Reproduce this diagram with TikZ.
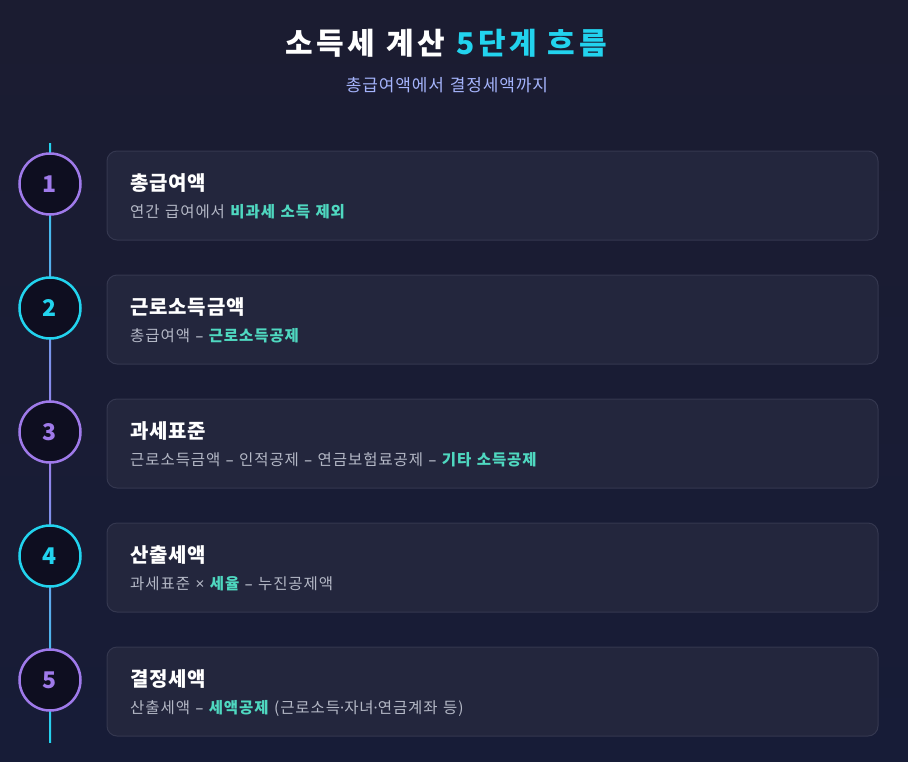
\documentclass[tikz,border=0pt]{standalone}
\usepackage{fontspec}
\setmainfont{Noto Sans CJK KR}
\newfontfamily\latinsym{Noto Sans}
\definecolor{bgtop}{HTML}{1B1C31}
\definecolor{bgbot}{HTML}{171C37}
\definecolor{cardfill}{HTML}{23263D}
\definecolor{cardline}{HTML}{34374F}
\definecolor{numfill}{HTML}{0E0E20}
\definecolor{tlcyan}{HTML}{22D3EE}
\definecolor{tlpurple}{HTML}{9F7AEA}
\definecolor{subtxt}{HTML}{A5B4FC}
\definecolor{desctxt}{HTML}{B4B8C6}
\definecolor{hl}{HTML}{4FD8C0}
\usetikzlibrary{positioning}
\newcommand{\hlt}[1]{\textcolor{hl}{\bfseries #1}}
\newcommand{\sdash}{{\latinsym –}}
\newcommand{\sdot}{{\latinsym ·}}
\newcommand{\titlefont}{\bfseries\fontsize{30}{34}\selectfont\addfontfeature{LetterSpace=12}\spaceskip=11pt\relax}
\newcommand{\subfont}{\fontsize{17}{20}\selectfont\addfontfeature{LetterSpace=5}\spaceskip=6pt\relax}
\newcommand{\descfont}{\fontsize{15.5}{18}\selectfont\addfontfeature{LetterSpace=6}\spaceskip=5.5pt\relax}
\begin{document}
\begin{tikzpicture}[x=1pt,y=-1pt,
  card/.style={draw=cardline,fill=cardfill,rounded corners=10pt,line width=1pt},
  stepnum/.style={circle,draw,line width=2.5pt,fill=numfill,minimum size=61pt,inner sep=0pt,font=\bfseries\fontsize{23}{27}\selectfont},
  head/.style={anchor=west,text=white,inner sep=0pt,font=\bfseries\fontsize{20}{24}\selectfont\addfontfeature{LetterSpace=4}},
  desc/.style={anchor=west,text=desctxt,inner sep=0pt,font=\descfont}]
  \shade[top color=bgtop,bottom color=bgbot] (0,0) rectangle (908,761);
  \useasboundingbox (0,0) rectangle (908,761);
  % title
  \node[text=white,font=\titlefont] (title) at (446,43) {소득세 계산 \textcolor{tlcyan}{5단계 흐름}};
  \node[text=subtxt,font=\subfont] (subtitle) at (447,85) {총급여액에서 결정세액까지};
  % timeline
  \coordinate (ttop) at (50,143);
  \coordinate (tmid) at (50,443);
  \coordinate (tbot) at (50,742);
  \shade[top color=tlcyan,bottom color=tlpurple] ([xshift=-1pt]ttop) rectangle ([xshift=1pt]tmid);
  \shade[top color=tlpurple,bottom color=tlcyan] ([xshift=-1pt]tmid) rectangle ([xshift=1pt]tbot);
  % cards
  \draw[card] (107,151) rectangle (878,240);
  \draw[card] (107,275) rectangle (878,364);
  \draw[card] (107,399) rectangle (878,488);
  \draw[card] (107,523) rectangle (878,612);
  \draw[card] (107,647) rectangle (878,736);
  % numbers
  \node[stepnum,draw=tlpurple,text=tlpurple] (num1) at (50,184) {1};
  \node[stepnum,draw=tlcyan,text=tlcyan] (num2) at (50,308) {2};
  \node[stepnum,draw=tlpurple,text=tlpurple] (num3) at (50,432) {3};
  \node[stepnum,draw=tlcyan,text=tlcyan] (num4) at (50,556) {4};
  \node[stepnum,draw=tlpurple,text=tlpurple] (num5) at (50,680) {5};
  % texts
  \node[head] (head1) at (130,183) {총급여액};
  \node[desc] (desc1) at (130,212) {연간 급여에서 \hlt{비과세 소득 제외}};
  \node[head] (head2) at (130,307) {근로소득금액};
  \node[desc] (desc2) at (130,336) {총급여액 \sdash{} \hlt{근로소득공제}};
  \node[head] (head3) at (130,431) {과세표준};
  \node[desc] (desc3) at (130,460) {근로소득금액 \sdash{} 인적공제 \sdash{} 연금보험료공제 \sdash{} \hlt{기타 소득공제}};
  \node[head] (head4) at (130,555) {산출세액};
  \node[desc] (desc4) at (130,584) {과세표준 {\latinsym ×} \hlt{세율} \sdash{} 누진공제액};
  \node[head] (head5) at (130,679) {결정세액};
  \node[desc] (desc5) at (130,708) {산출세액 \sdash{} \hlt{세액공제} (근로소득\sdot{}자녀\sdot{}연금계좌 등)};
\end{tikzpicture}
\end{document}
